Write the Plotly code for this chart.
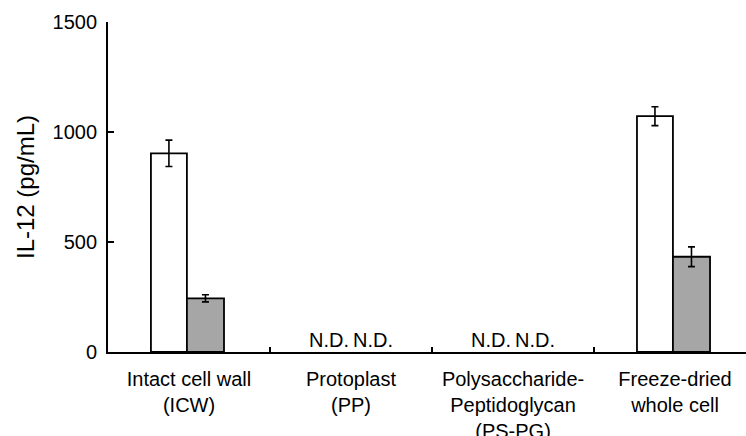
import plotly.graph_objects as go

categories = ["Intact cell wall<br>(ICW)", "Protoplast<br>(PP)",
              "Polysaccharide-<br>Peptidoglycan<br>(PS-PG)", "Freeze-dried<br>whole cell"]
white_vals = [903, None, None, 1072]
white_err = [60, 0, 0, 43]
gray_vals = [244, None, None, 433]
gray_err = [16, 0, 0, 45]
y_ticks = [0, 500, 1000, 1500]
nd_label = "N.D."

FONT = "Liberation Sans, Arial, Helvetica, sans-serif"
xpos = list(range(len(categories)))

fig = go.Figure()
fig.add_trace(go.Bar(
    x=xpos, y=white_vals, width=0.222, offset=-0.235,
    marker=dict(color="white", line=dict(color="black", width=1.8)),
    error_y=dict(type="data", array=white_err, color="black", thickness=1.6, width=3.5),
    showlegend=False,
))
fig.add_trace(go.Bar(
    x=xpos, y=gray_vals, width=0.229, offset=-0.013,
    marker=dict(color="#a6a6a6", line=dict(color="black", width=1.8)),
    error_y=dict(type="data", array=gray_err, color="black", thickness=1.6, width=3.5),
    showlegend=False,
))

# N.D. labels where no value was detected
for i, (w, g) in enumerate(zip(white_vals, gray_vals)):
    for v, dx in ((w, -0.136), (g, 0.136)):
        if v is None:
            fig.add_annotation(x=i + dx, y=0, xref="x", yref="y", text=nd_label,
                               showarrow=False, yanchor="bottom", yshift=-1,
                               font=dict(family=FONT, size=20, color="black"))

fig.add_annotation(text="IL-12 (pg/mL)", textangle=-90, xref="paper", yref="paper",
                   x=-83 / 638, y=0.5, xanchor="center", yanchor="middle", showarrow=False,
                   font=dict(family=FONT, size=24, color="black"))

fig.update_layout(
    width=746, height=436,
    margin=dict(l=108, r=0, t=22, b=84, autoexpand=False),
    paper_bgcolor="white", plot_bgcolor="white",
    barmode="overlay",
    font=dict(family=FONT, size=20, color="black"),
    xaxis=dict(
        range=[-0.5, 3.438], tickmode="array", tickvals=xpos, ticktext=categories,
        ticks="", showline=True, linecolor="black", linewidth=1.8, automargin=False,
        showgrid=False, zeroline=False, tickfont=dict(family=FONT, size=20),
        ticklabelstandoff=8,
        minor=dict(tickvals=[0.5, 1.5, 2.5], ticks="inside", ticklen=5,
                   tickwidth=1.5, tickcolor="black", showgrid=False),
    ),
    yaxis=dict(
        range=[0, 1500], tickvals=y_ticks, ticks="inside", ticklen=6, tickwidth=1.5,
        tickcolor="black", showline=True, linecolor="black", linewidth=1.8,
        showgrid=False, zeroline=False, tickfont=dict(family=FONT, size=20),
        ticklabelstandoff=5, automargin=False,
    ),
)

fig.write_html("out.html")
